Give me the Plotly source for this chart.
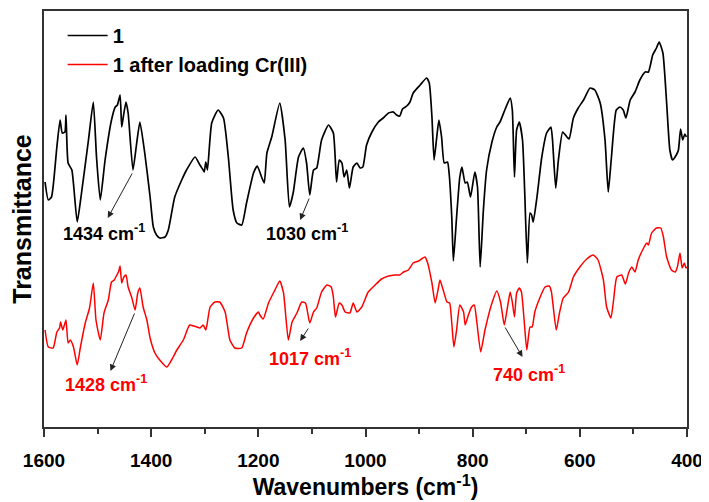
import plotly.graph_objects as go

# ---- data ----
wn_1 = [1598, 1592, 1586, 1576, 1570, 1566, 1561, 1559, 1555, 1548, 1538, 1530, 1517, 1508, 1502, 1495,
        1486, 1474, 1467, 1463, 1458, 1455, 1452, 1447, 1443, 1434, 1427, 1421, 1412, 1402, 1396, 1390,
        1384, 1374, 1368, 1356, 1343, 1334, 1318, 1309, 1303, 1301, 1298, 1295, 1287, 1275, 1265, 1256,
        1247, 1240, 1231, 1222, 1209, 1202, 1194, 1189, 1184, 1175, 1160, 1150, 1142, 1135, 1125, 1116,
        1110, 1104, 1097, 1091, 1082, 1069, 1060, 1054, 1049, 1044, 1040, 1035, 1030, 1023, 1016, 1010,
        1005, 998, 988, 976, 967, 957, 948, 942, 936, 931, 923, 917, 911, 898, 886, 881, 876, 872, 867,
        863, 858, 853, 847, 844, 839, 836, 830, 824, 820, 814, 810, 804, 796, 791, 786, 780, 774, 764,
        755, 749, 740, 730, 726, 722, 718, 713, 707, 703, 698, 693, 690, 687, 680, 671, 662, 654, 651,
        645, 640, 632, 624, 620, 612, 603, 593, 581, 572, 562, 553, 547, 541, 532, 525, 519, 514, 506,
        497, 488, 478, 472, 464, 457, 452, 445, 438, 432, 427, 420, 416, 412, 408, 404, 401]
tr_1 = [245, 227, 230, 280, 307, 294, 295, 312, 264, 257, 205, 234, 287, 325, 270, 227,
        267, 307, 320, 322, 332, 300, 310, 325, 314, 257, 284, 305, 274, 230, 200, 192,
        189, 190, 197, 230, 247, 257, 270, 262, 257, 255, 265, 257, 304, 317, 309, 270,
        217, 204, 202, 224, 254, 261, 250, 244, 274, 290, 324, 287, 220, 234, 270, 279,
        264, 232, 257, 259, 287, 302, 294, 245, 267, 264, 250, 257, 239, 260, 264, 259,
        260, 282, 295, 305, 309, 314, 315, 312, 311, 318, 321, 325, 334, 342, 349, 344, 310, 267, 290,
        307, 290, 264, 265, 254, 210, 166, 210, 250, 260, 244, 245, 230, 255, 240, 160, 217, 257, 285,
        300, 305, 317, 329, 317, 250, 297, 305, 287, 237, 164, 214, 212, 205, 230, 270, 294, 300, 287,
        239, 267, 295, 290, 288, 309, 319, 327, 339, 337, 324, 287, 235, 270, 317, 320, 317, 309, 327,
        335, 347, 355, 355, 372, 379, 385, 374, 324, 277, 267, 272, 277, 298, 287, 293, 290]

wn_2 = [1598, 1592, 1583, 1576, 1571, 1569, 1565, 1563, 1559, 1555, 1551, 1545, 1538, 1532, 1523, 1515,
        1508, 1503, 1495, 1488, 1480, 1474, 1469, 1464, 1461, 1458, 1455, 1451, 1447, 1443, 1436, 1430,
        1425, 1421, 1415, 1408, 1402, 1393, 1384, 1371, 1362, 1352, 1340, 1328, 1315, 1309, 1303, 1298,
        1290, 1281, 1272, 1262, 1253, 1244, 1231, 1222, 1209, 1200, 1197, 1191, 1181, 1169, 1160, 1153,
        1144, 1137, 1128, 1119, 1112, 1104, 1097, 1091, 1082, 1072, 1064, 1060, 1056, 1049, 1044, 1038,
        1029, 1023, 1016, 1007, 995, 982, 970, 957, 945, 936, 929, 920, 911, 901, 889, 884, 876, 870,
        864, 861, 855, 848, 843, 839, 835, 830, 824, 817, 814, 808, 802, 797, 792, 785, 777, 764, 755,
        748, 741, 735, 730, 726, 722, 718, 713, 709, 704, 699, 693, 689, 684, 674, 665, 657, 653, 644,
        638, 631, 621, 612, 600, 587, 575, 566, 556, 550, 542, 537, 531, 522, 515, 509, 503, 497, 491,
        481, 475, 472, 466, 457, 449, 444, 438, 429, 422, 418, 413, 409, 405, 402, 400]
tr_2 = [97, 80, 79, 95, 99, 105, 97, 100, 107, 84, 87, 80, 62, 80, 104, 119,
        144, 107, 87, 114, 127, 145, 147, 152, 155, 161, 144, 150, 152, 140, 129, 117,
        134, 139, 120, 107, 89, 74, 67, 60, 67, 77, 87, 102, 100, 99, 102, 97,
        120, 125, 125, 115, 87, 79, 79, 94, 109, 115, 112, 108, 124, 137, 146, 134,
        87, 105, 114, 125, 124, 104, 115, 119, 135, 142, 140, 130, 110, 124, 122, 115,
        114, 124, 115, 120, 135, 142, 148, 151, 152, 152, 155, 157, 164, 166, 170, 164, 144, 124,
        139, 147, 137, 125, 124, 104, 80, 97, 122, 115, 102, 112, 120, 122, 104, 75, 97, 124, 136,
        125, 102, 120, 135, 125, 110, 134, 139, 135, 107, 77, 100, 100, 115, 130, 140, 141, 135, 97,
        114, 129, 135, 150, 160, 168, 172, 167, 147, 120, 109, 127, 150, 152, 143, 154, 160, 155, 167,
        179, 184, 182, 194, 199, 199, 190, 170, 157, 155, 160, 174, 159, 164, 159, 160]

series_names = ["1", "1 after loading Cr(III)"]
series_colors = ["#000000", "#ff0000"]

# peak labels: text, colour, label position, arrow tail (on curve), arrow tip
peak_text = ["1434 cm<sup>-1</sup>", "1030 cm<sup>-1</sup>", "1428 cm<sup>-1</sup>",
             "1017 cm<sup>-1</sup>", "740 cm<sup>-1</sup>"]
peak_color = ["#000000", "#000000", "#ff0000", "#ff0000", "#ff0000"]
label_wn = [1488, 1109, 1484, 1104, 695]
label_tr = [195, 195, 44, 70, 54]
tail_wn = [1434, 1104, 1430, 1105, 741]
tail_tr = [255, 230, 115, 100, 101]
tip_wn = [1481, 1122, 1476, 1122, 707]
tip_tr = [209, 207, 56, 86, 70]

FONT = "Arial, Liberation Sans, sans-serif"

fig = go.Figure()
fig.add_trace(go.Scatter(x=wn_1, y=tr_1, mode="lines", name="<b>" + series_names[0] + "</b>",
                         line=dict(color=series_colors[0], width=1.7, shape="spline", smoothing=0.5)))
fig.add_trace(go.Scatter(x=wn_2, y=tr_2, mode="lines", name="<b>" + series_names[1] + "</b>",
                         line=dict(color=series_colors[1], width=1.5, shape="spline", smoothing=0.5)))

for i in range(len(peak_text)):
    fig.add_annotation(x=tip_wn[i], y=tip_tr[i], ax=tail_wn[i], ay=tail_tr[i],
                       xref="x", yref="y", axref="x", ayref="y", text="",
                       showarrow=True, arrowhead=2, arrowsize=1.3, arrowwidth=1,
                       arrowcolor="#222222")
    fig.add_annotation(x=label_wn[i], y=label_tr[i], xref="x", yref="y",
                       text="<b>" + peak_text[i] + "</b>", showarrow=False,
                       font=dict(family=FONT, size=18, color=peak_color[i]))

# the page body adds an 8px offset, so the figure is 8px smaller on each side
fig.update_layout(
    width=701, height=494,
    margin=dict(l=36, r=22, t=3, b=75),
    paper_bgcolor="white", plot_bgcolor="white",
    font=dict(family=FONT, color="#000000"),
    showlegend=True,
    legend=dict(x=0.029, y=0.988, xanchor="left", yanchor="top",
                bgcolor="rgba(0,0,0,0)", borderwidth=0,
                font=dict(family=FONT, size=20, color="#000000"),
                tracegroupgap=0, itemwidth=40),
)
fig.update_xaxes(
    range=[1600, 400], autorange=False, automargin=False,
    tickmode="linear", tick0=400, dtick=200,
    ticks="outside", ticklen=8, tickwidth=1.5, tickcolor="#333333",
    minor=dict(ticks="outside", ticklen=5, tickwidth=1.5, tickcolor="#333333", dtick=100, tick0=400),
    showline=True, linecolor="#333333", linewidth=2, mirror=True,
    showgrid=False, zeroline=False,
    tickfont=dict(family=FONT, size=19, color="#000000", weight="bold"),
    ticklabelstandoff=7,
    title=dict(text="<b>Wavenumbers (cm<sup>-1</sup>)</b>", standoff=8,
               font=dict(family=FONT, size=23, color="#000000")),
)
fig.update_yaxes(
    range=[0, 416], autorange=False, automargin=False,
    showticklabels=False, ticks="",
    showline=True, linecolor="#333333", linewidth=2, mirror=True,
    showgrid=False, zeroline=False,
    title=dict(text="<b>Transmittance</b>", standoff=8,
               font=dict(family=FONT, size=25, color="#000000")),
)

fig.write_html("out.html")
